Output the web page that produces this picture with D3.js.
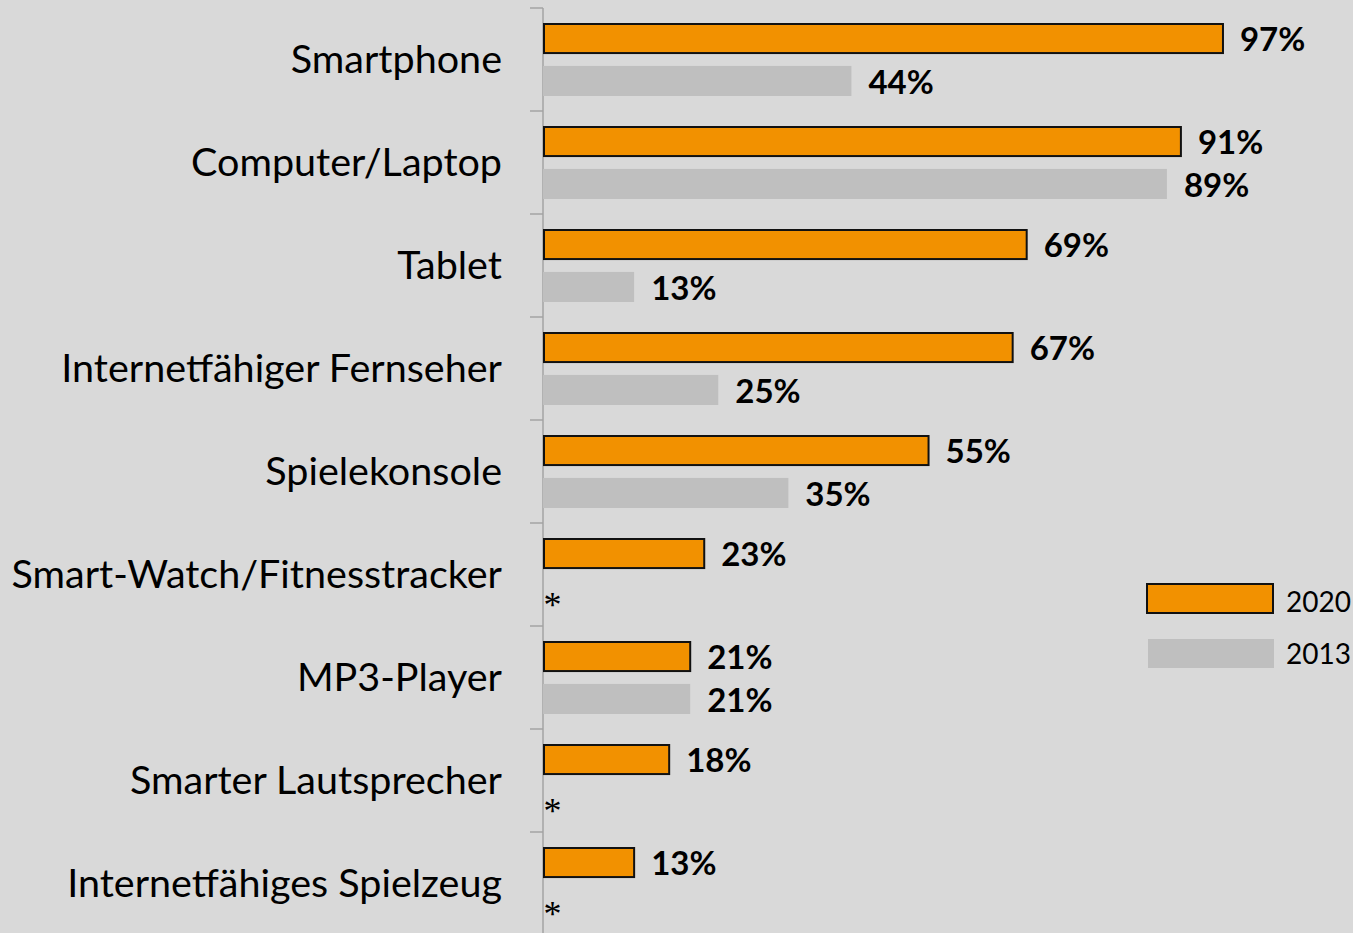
<!DOCTYPE html>
<html>
<head>
<meta charset="utf-8">
<script src="https://cdn.jsdelivr.net/npm/d3@7"></script>
<style>
  body { margin: 0; background: #d9d9d9; }
  svg { display: block; }
</style>
</head>
<body>
<svg id="chart" width="1353" height="933"></svg>
<script>
// Geräte-Besitz 2020 vs 2013

var categories = [
  "Smartphone",
  "Computer/Laptop",
  "Tablet",
  "Internetfähiger Fernseher",
  "Spielekonsole",
  "Smart-Watch/Fitnesstracker",
  "MP3-Player",
  "Smarter Lautsprecher",
  "Internetfähiges Spielzeug"
];
var years = ["2020", "2013"];
var values2020 = [97, 91, 69, 67, 55, 23, 21, 18, 13];
var values2013 = [44, 89, 13, 25, 35, null, 21, null, null];

var colors = { "2020": "#f29100", "2013": "#bfbfbf" };

var svg = d3.select("#chart");
var width = 1353, height = 933;

svg.append("rect")
  .attr("width", width).attr("height", height)
  .attr("fill", "#d9d9d9");

var x = d3.scaleLinear().domain([0, 100]).range([543, 1244]);
var y = d3.scaleBand().domain(categories).range([8, 935]);
var ySub = d3.scaleBand().domain(years).range([15, 88]).paddingInner(0.3);

// axis line + ticks between categories
var axis = svg.append("g").attr("class", "axis");
axis.append("line")
  .attr("x1", x(0)).attr("x2", x(0))
  .attr("y1", y.range()[0]).attr("y2", height)
  .attr("stroke", "#a3a3a3").attr("stroke-width", 1.5);
axis.selectAll("line.tick")
  .data(categories)
  .enter().append("line")
  .attr("class", "tick")
  .attr("x1", x(0) - 13).attr("x2", x(0))
  .attr("y1", function (d) { return y(d); })
  .attr("y2", function (d) { return y(d); })
  .attr("stroke", "#a3a3a3").attr("stroke-width", 1.5);

// category labels
svg.append("g").selectAll("text")
  .data(categories)
  .enter().append("text")
  .attr("x", 502)
  .attr("y", function (d) { return y(d) + y.bandwidth() / 2; })
  .attr("dy", "0.35em")
  .attr("text-anchor", "end")
  .style("font-family", "Lato, 'Open Sans', sans-serif")
  .style("font-size", "39.5px")
  .attr("fill", "#000")
  .text(function (d) { return d; });

var rows = categories.map(function (c, i) {
  return { cat: c, "2020": values2020[i], "2013": values2013[i] };
});

var groups = svg.append("g").selectAll("g")
  .data(rows)
  .enter().append("g")
  .attr("transform", function (d) { return "translate(0," + y(d.cat) + ")"; });

var bars = groups.selectAll("g.bar")
  .data(function (d) {
    return years.map(function (yr) { return { year: yr, value: d[yr] }; });
  })
  .enter().append("g")
  .attr("class", "bar");

bars.filter(function (d) { return d.value != null; })
  .append("rect")
  .attr("x", function (d) { return d.year === "2020" ? x(0) + 1 : x(0); })
  .attr("y", function (d) { return ySub(d.year) + (d.year === "2020" ? 1 : 0); })
  .attr("width", function (d) { return x(d.value) - x(0) - (d.year === "2020" ? 1 : 0); })
  .attr("height", function (d) { return ySub.bandwidth() - (d.year === "2020" ? 1 : 0); })
  .attr("fill", function (d) { return colors[d.year]; })
  .attr("stroke", function (d) { return d.year === "2020" ? "#111" : "none"; })
  .attr("stroke-width", 2);

bars.filter(function (d) { return d.value != null; })
  .append("text")
  .attr("x", function (d) { return x(d.value) + 17; })
  .attr("y", function (d) { return ySub(d.year) + ySub.bandwidth() / 2; })
  .attr("dy", "0.38em")
  .style("font-family", "Lato, 'Open Sans', sans-serif")
  .style("font-weight", "bold")
  .style("font-size", "33px")
  .attr("fill", "#000")
  .text(function (d) { return d.value + "%"; });

// no 2013 data -> asterisk
bars.filter(function (d) { return d.value == null; })
  .append("text")
  .attr("x", x(0) + 0.5)
  .attr("y", function (d) { return ySub(d.year) + ySub.bandwidth() / 2 + 21; })
  .style("font-family", "'Liberation Serif', serif")
  .style("font-size", "36px")
  .attr("fill", "#000")
  .text("*");

// legend
var legend = svg.append("g").selectAll("g")
  .data(years)
  .enter().append("g")
  .attr("transform", function (d, i) { return "translate(1146," + (583 + i * 55) + ")"; });

legend.append("rect")
  .attr("x", function (d) { return d === "2020" ? 1 : 2; })
  .attr("y", 1)
  .attr("width", 126)
  .attr("height", 29)
  .attr("fill", function (d) { return colors[d]; })
  .attr("stroke", function (d) { return d === "2020" ? "#111" : "none"; })
  .attr("stroke-width", 2);

legend.append("text")
  .attr("x", 140)
  .attr("y", function (d, i) { return 29 - i * 3.5; })
  .style("font-family", "Lato, sans-serif")
  .style("font-size", "28px")
  .attr("fill", "#000")
  .text(function (d) { return d; });
</script>
</body>
</html>
